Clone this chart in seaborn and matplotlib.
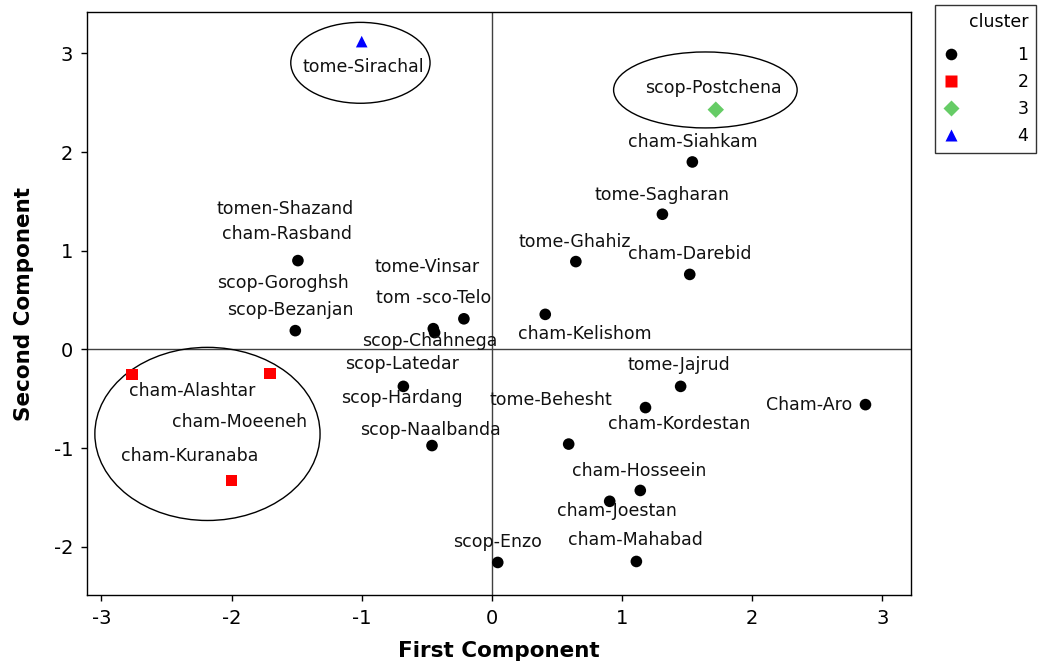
import matplotlib
matplotlib.use("Agg")

import matplotlib.pyplot as plt
import pandas as pd
import seaborn as sns
from matplotlib.patches import Ellipse

# point coordinates (first / second component) and cluster membership
pc1 = [1.54, 1.31, 0.645, 1.52, 0.41, -1.49, -1.51, -0.215, -0.45, -0.44,
       -0.68, -0.46, 0.59, 1.45, 1.18, 2.87, 1.14, 0.905, 0.045, 1.11,
       -2.765, -1.705, -2.0,
       1.72,
       -1.0]
pc2 = [1.90, 1.37, 0.89, 0.76, 0.355, 0.90, 0.19, 0.31, 0.21, 0.17,
       -0.375, -0.975, -0.96, -0.375, -0.59, -0.56, -1.43, -1.54, -2.16, -2.15,
       -0.255, -0.245, -1.33,
       2.43,
       3.12]
cluster = [1] * 20 + [2] * 3 + [3] + [4]

# site labels and where they sit on the chart
label_text = ["tome-Sirachal", "scop-Postchena", "cham-Siahkam", "tome-Sagharan",
              "tome-Ghahiz", "cham-Darebid", "cham-Kelishom", "tomen-Shazand",
              "cham-Rasband", "scop-Goroghsh", "scop-Bezanjan", "tome-Vinsar",
              "tom -sco-Telo", "scop-Chahnega", "scop-Latedar", "scop-Hardang",
              "scop-Naalbanda", "tome-Behesht", "tome-Jajrud", "cham-Kordestan",
              "Cham-Aro", "cham-Hosseein", "cham-Joestan", "scop-Enzo",
              "cham-Mahabad", "cham-Alashtar", "cham-Moeeneh", "cham-Kuranaba"]
label_x = [-0.99, 1.70, 1.54, 1.31, 0.64, 1.52, 0.715, -1.59,
           -1.575, -1.605, -1.55, -0.50, -0.45, -0.475, -0.69, -0.69,
           -0.475, 0.45, 1.44, 1.44, 2.44, 1.13, 0.96, 0.04,
           1.10, -2.30, -1.935, -2.32]
label_y = [2.86, 2.65, 2.10, 1.57, 1.085, 0.97, 0.16, 1.42,
           1.17, 0.67, 0.395, 0.84, 0.52, 0.08, -0.15, -0.49,
           -0.82, -0.51, -0.16, -0.76, -0.56, -1.23, -1.64, -1.95,
           -1.93, -0.42, -0.74, -1.085]

# circled groups: centre x, centre y, width, height
ell_x = [-1.01, 1.64, -2.185]
ell_y = [2.905, 2.63, -0.857]
ell_w = [1.07, 1.41, 1.73]
ell_h = [0.82, 0.77, 1.755]

df = pd.DataFrame({"First Component": pc1, "Second Component": pc2,
                   "cluster": cluster})

sns.set_style("ticks")
plt.rcParams["font.family"] = ["DejaVu Sans"]
plt.rcParams["axes.unicode_minus"] = False
plt.rcParams["text.color"] = "black"
plt.rcParams["axes.labelcolor"] = "black"
plt.rcParams["xtick.color"] = "black"
plt.rcParams["ytick.color"] = "black"

fig = plt.figure(figsize=(10.4, 6.64), dpi=100)
ax = fig.add_axes([0.0837, 0.1039, 0.7923, 0.878])

palette = {1: "black", 2: "#ff0000", 3: "#66cc66", 4: "#0000ff"}
markers = {1: "o", 2: "s", 3: "D", 4: "^"}

ax.axhline(0, color="#404040", lw=1, zorder=0)
ax.axvline(0, color="#404040", lw=1, zorder=0)

sns.scatterplot(data=df, x="First Component", y="Second Component",
                hue="cluster", style="cluster", palette=palette, markers=markers,
                s=70, edgecolor="none", ax=ax, zorder=3)

for t, x, y in zip(label_text, label_x, label_y):
    ax.text(x, y, t, ha="center", va="center", fontsize=12.5, color="#111111")

for x, y, w, h in zip(ell_x, ell_y, ell_w, ell_h):
    ax.add_patch(Ellipse((x, y), w, h, fill=False, edgecolor="black", lw=1))

ax.set_xlim(-3.11, 3.22)
ax.set_ylim(-2.49, 3.42)
ax.set_xticks([-3, -2, -1, 0, 1, 2, 3])
ax.set_yticks([-2, -1, 0, 1, 2, 3])
ax.tick_params(labelsize=14, length=4, width=1, direction="out", pad=6)
for sp in ax.spines.values():
    sp.set_color("black")
    sp.set_linewidth(1)
ax.set_xlabel("First Component", fontsize=15.5, fontweight="bold", labelpad=9.5)
ax.set_ylabel("Second Component", fontsize=15.5, fontweight="bold", labelpad=14)

sns.move_legend(ax, "upper left", bbox_to_anchor=(1.029, 1.012),
                borderaxespad=0, title="cluster", fontsize=12.5,
                title_fontsize=12.5, frameon=True, fancybox=False,
                edgecolor="black", handlelength=1.0, handletextpad=3.3,
                labelspacing=0.515, borderpad=0.45, alignment="right")
leg = ax.get_legend()
leg.get_frame().set_linewidth(1)
# a bit more room between the legend title and its entries
leg._legend_box.sep = 11

fig.savefig("out.png", dpi=100)
